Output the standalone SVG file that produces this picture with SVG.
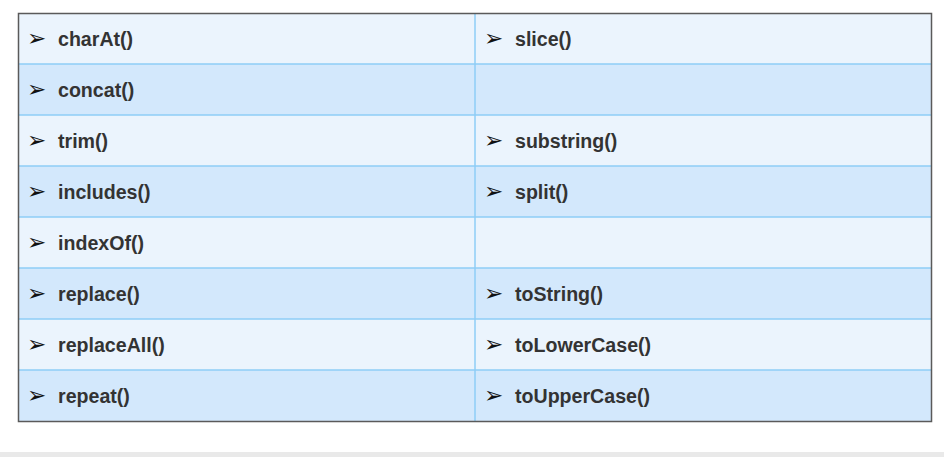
<svg xmlns="http://www.w3.org/2000/svg" width="944" height="457" viewBox="0 0 944 457">
<style>
.light{fill:#ebf4fd}
.dark{fill:#d3e8fc}
.grid{stroke:#8fcdf6;stroke-width:1.5;fill:none}
.t{font-family:"Liberation Sans",Arial,sans-serif;font-weight:bold;font-size:19.6px;fill:#333333}
.b{font-family:"DejaVu Sans",sans-serif;font-size:23px;fill:#111111}
</style>
<rect x="0" y="0" width="944" height="457" fill="#ffffff"/>
<rect x="0" y="452" width="944" height="5" fill="#e9e9e9"/>
<g id="rows">
<rect class="light" x="18" y="13" width="914" height="51"/>
<rect class="dark" x="18" y="64" width="914" height="51"/>
<rect class="light" x="18" y="115" width="914" height="51"/>
<rect class="dark" x="18" y="166" width="914" height="51"/>
<rect class="light" x="18" y="217" width="914" height="51"/>
<rect class="dark" x="18" y="268" width="914" height="51"/>
<rect class="light" x="18" y="319" width="914" height="51"/>
<rect class="dark" x="18" y="370" width="914" height="51"/>
</g>
<g id="connectors">
<path class="grid" d="M18 64H932M18 115H932M18 166H932M18 217H932M18 268H932M18 319H932M18 370H932M475 13V421"/>
</g>
<rect x="18.5" y="13.5" width="913" height="408" fill="none" stroke="#5a5a5a" stroke-width="1.5"/>
<g id="c-charAt"><text class="b" x="27" y="46">➢</text><text class="t" x="58" y="46">charAt()</text></g>
<g id="c-slice"><text class="b" x="484" y="46">➢</text><text class="t" x="515" y="46">slice()</text></g>
<g id="c-concat"><text class="b" x="27" y="97">➢</text><text class="t" x="58" y="97">concat()</text></g>
<g id="c-trim"><text class="b" x="27" y="148">➢</text><text class="t" x="58" y="148">trim()</text></g>
<g id="c-substring"><text class="b" x="484" y="148">➢</text><text class="t" x="515" y="148">substring()</text></g>
<g id="c-includes"><text class="b" x="27" y="199">➢</text><text class="t" x="58" y="199">includes()</text></g>
<g id="c-split"><text class="b" x="484" y="199">➢</text><text class="t" x="515" y="199">split()</text></g>
<g id="c-indexOf"><text class="b" x="27" y="250">➢</text><text class="t" x="58" y="250">indexOf()</text></g>
<g id="c-replace"><text class="b" x="27" y="301">➢</text><text class="t" x="58" y="301">replace()</text></g>
<g id="c-toString"><text class="b" x="484" y="301">➢</text><text class="t" x="515" y="301">toString()</text></g>
<g id="c-replaceAll"><text class="b" x="27" y="352">➢</text><text class="t" x="58" y="352">replaceAll()</text></g>
<g id="c-toLowerCase"><text class="b" x="484" y="352">➢</text><text class="t" x="515" y="352">toLowerCase()</text></g>
<g id="c-repeat"><text class="b" x="27" y="403">➢</text><text class="t" x="58" y="403">repeat()</text></g>
<g id="c-toUpperCase"><text class="b" x="484" y="403">➢</text><text class="t" x="515" y="403">toUpperCase()</text></g>
</svg>
